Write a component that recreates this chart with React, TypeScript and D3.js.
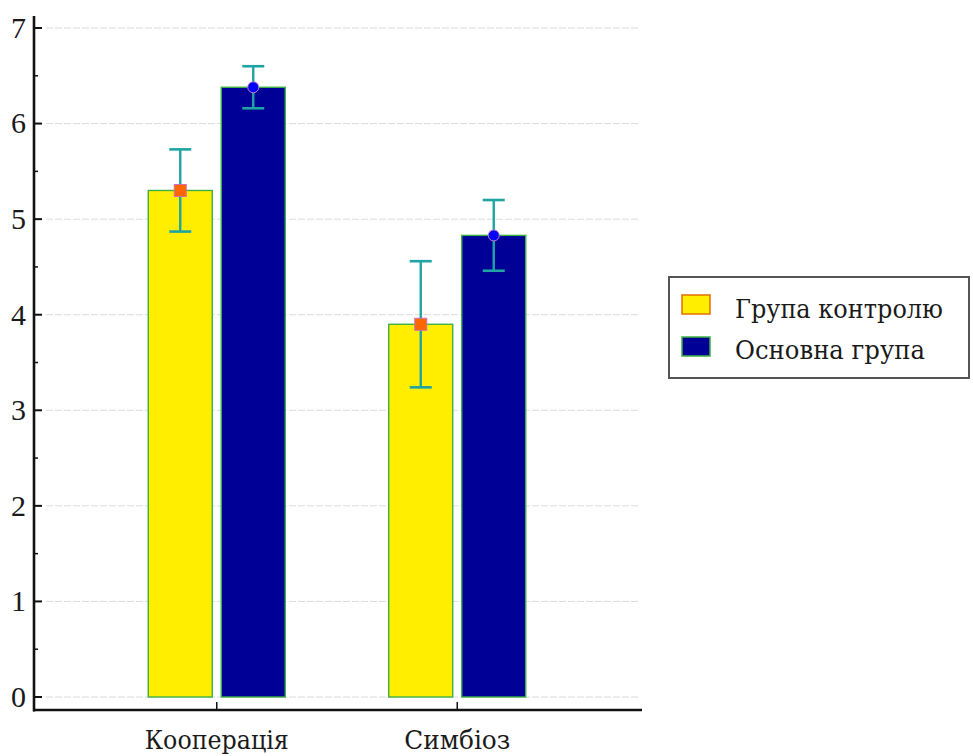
import React from "react";
import * as d3 from "d3";

const categories = ["Кооперація", "Симбіоз"];
const seriesNames = ["Група контролю", "Основна група"];
const controlValues = [5.3, 3.9];
const controlErrors = [0.43, 0.66];
const mainValues = [6.38, 4.83];
const mainErrors = [0.22, 0.37];
const yTicks = [0, 1, 2, 3, 4, 5, 6, 7];
const yMinorTicks = [0.5, 1.5, 2.5, 3.5, 4.5, 5.5, 6.5];

const W = 973;
const H = 756;
const left = 34;
const right = 640;
const top = 16;
const axisY = 710;

const FONT = "'Liberation Serif', 'Times New Roman', serif";
const CYR_FONT = "'DejaVu Serif', serif";
const FS = 30;

export default function App() {
  const x = d3
    .scaleBand<string>()
    .domain(categories)
    .range([left, right])
    .paddingOuter(0.26)
    .paddingInner(0);
  const y = d3.scaleLinear().domain([0, 7]).range([697, 28]);

  const barW = 64;
  const gap = 9;
  const series = [
    { name: seriesNames[0], values: controlValues, errors: controlErrors, fill: "#FFEE00", marker: "square", width: 208 },
    { name: seriesNames[1], values: mainValues, errors: mainErrors, fill: "#000096", marker: "circle", width: 190 },
  ];
  const catWidths = [144, 106];

  return (
    <svg
      width={W}
      height={H}
      style={{ position: "absolute", left: 0, top: 0, background: "#fff" }}
    >
      {/* grid */}
      {yTicks.map((t) => (
        <line
          key={"g" + t}
          x1={left + 12}
          x2={right}
          y1={y(t)}
          y2={y(t)}
          stroke="#dcdcdc"
          strokeWidth={1}
          strokeDasharray="7 2"
        />
      ))}

      {/* bars */}
      {categories.map((c, i) => {
        const cx = (x(c) as number) + x.bandwidth() / 2;
        return series.map((s, j) => {
          const bx = j === 0 ? cx - gap / 2 - barW : cx + gap / 2;
          const v = s.values[i];
          return (
            <rect
              key={c + s.name}
              x={bx}
              y={y(v)}
              width={barW}
              height={y(0) - y(v)}
              fill={s.fill}
              stroke="#3cb043"
              strokeWidth={1.4}
            />
          );
        });
      })}

      {/* error bars and markers */}
      {categories.map((c, i) => {
        const cx = (x(c) as number) + x.bandwidth() / 2;
        return series.map((s, j) => {
          const mx = j === 0 ? cx - gap / 2 - barW / 2 : cx + gap / 2 + barW / 2;
          const v = s.values[i];
          const e = s.errors[i];
          const cap = 11;
          return (
            <g key={"e" + c + s.name}>
              <line x1={mx} x2={mx} y1={y(v + e)} y2={y(v - e)} stroke="#1fa3a3" strokeWidth={2.4} />
              <line x1={mx - cap} x2={mx + cap} y1={y(v + e)} y2={y(v + e)} stroke="#1fa3a3" strokeWidth={2.6} />
              <line x1={mx - cap} x2={mx + cap} y1={y(v - e)} y2={y(v - e)} stroke="#1fa3a3" strokeWidth={2.6} />
              {s.marker === "square" ? (
                <rect x={mx - 6} y={y(v) - 6} width={12} height={12} fill="#FF6600" stroke="#d070b0" strokeWidth={1} />
              ) : (
                <circle cx={mx} cy={y(v)} r={5.5} fill="#0000FF" stroke="#c080c0" strokeWidth={1} />
              )}
            </g>
          );
        });
      })}

      {/* y axis */}
      <line x1={left} x2={left} y1={top} y2={axisY + 1.5} stroke="#111" strokeWidth={2.6} />
      {yTicks.map((t) => (
        <g key={"t" + t}>
          <line x1={left} x2={left + 8} y1={y(t)} y2={y(t)} stroke="#111" strokeWidth={2} />
          <text
            x={26}
            y={y(t)}
            dy="0.33em"
            textAnchor="end"
            fontFamily={FONT}
            fontSize={FS}
            fill="#1a1a1a"
          >
            {t}
          </text>
        </g>
      ))}
      {yMinorTicks.map((t) => (
        <line key={"m" + t} x1={left} x2={left + 4} y1={y(t)} y2={y(t)} stroke="#111" strokeWidth={1.5} />
      ))}

      {/* x axis */}
      <line x1={left - 1} x2={right + 2} y1={axisY} y2={axisY} stroke="#111" strokeWidth={2.6} />
      {categories.map((c, i) => {
        const cx = (x(c) as number) + x.bandwidth() / 2;
        return (
          <g key={"x" + c}>
            <line x1={cx} x2={cx} y1={axisY} y2={axisY - 8} stroke="#111" strokeWidth={1.5} />
            <text
              x={cx}
              y={749}
              textAnchor="middle"
              fontFamily={CYR_FONT}
              fontSize={26}
              textLength={catWidths[i]}
              lengthAdjust="spacingAndGlyphs"
              fill="#1a1a1a"
            >
              {c}
            </text>
          </g>
        );
      })}

      {/* legend */}
      <g>
        <rect x={669} y={277} width={300} height={101} fill="#fff" stroke="#555" strokeWidth={2} />
        {series.map((s, j) => (
          <g key={"l" + s.name}>
            <rect
              x={682}
              y={295 + j * 42}
              width={28}
              height={19}
              fill={s.fill}
              stroke={j === 0 ? "#e07000" : "#3cb043"}
              strokeWidth={1.5}
            />
            <text
              x={735}
              y={318 + j * 41}
              fontFamily={CYR_FONT}
              fontSize={26}
              textLength={s.width}
              lengthAdjust="spacingAndGlyphs"
              fill="#1a1a1a"
            >
              {s.name}
            </text>
          </g>
        ))}
      </g>
    </svg>
  );
}
